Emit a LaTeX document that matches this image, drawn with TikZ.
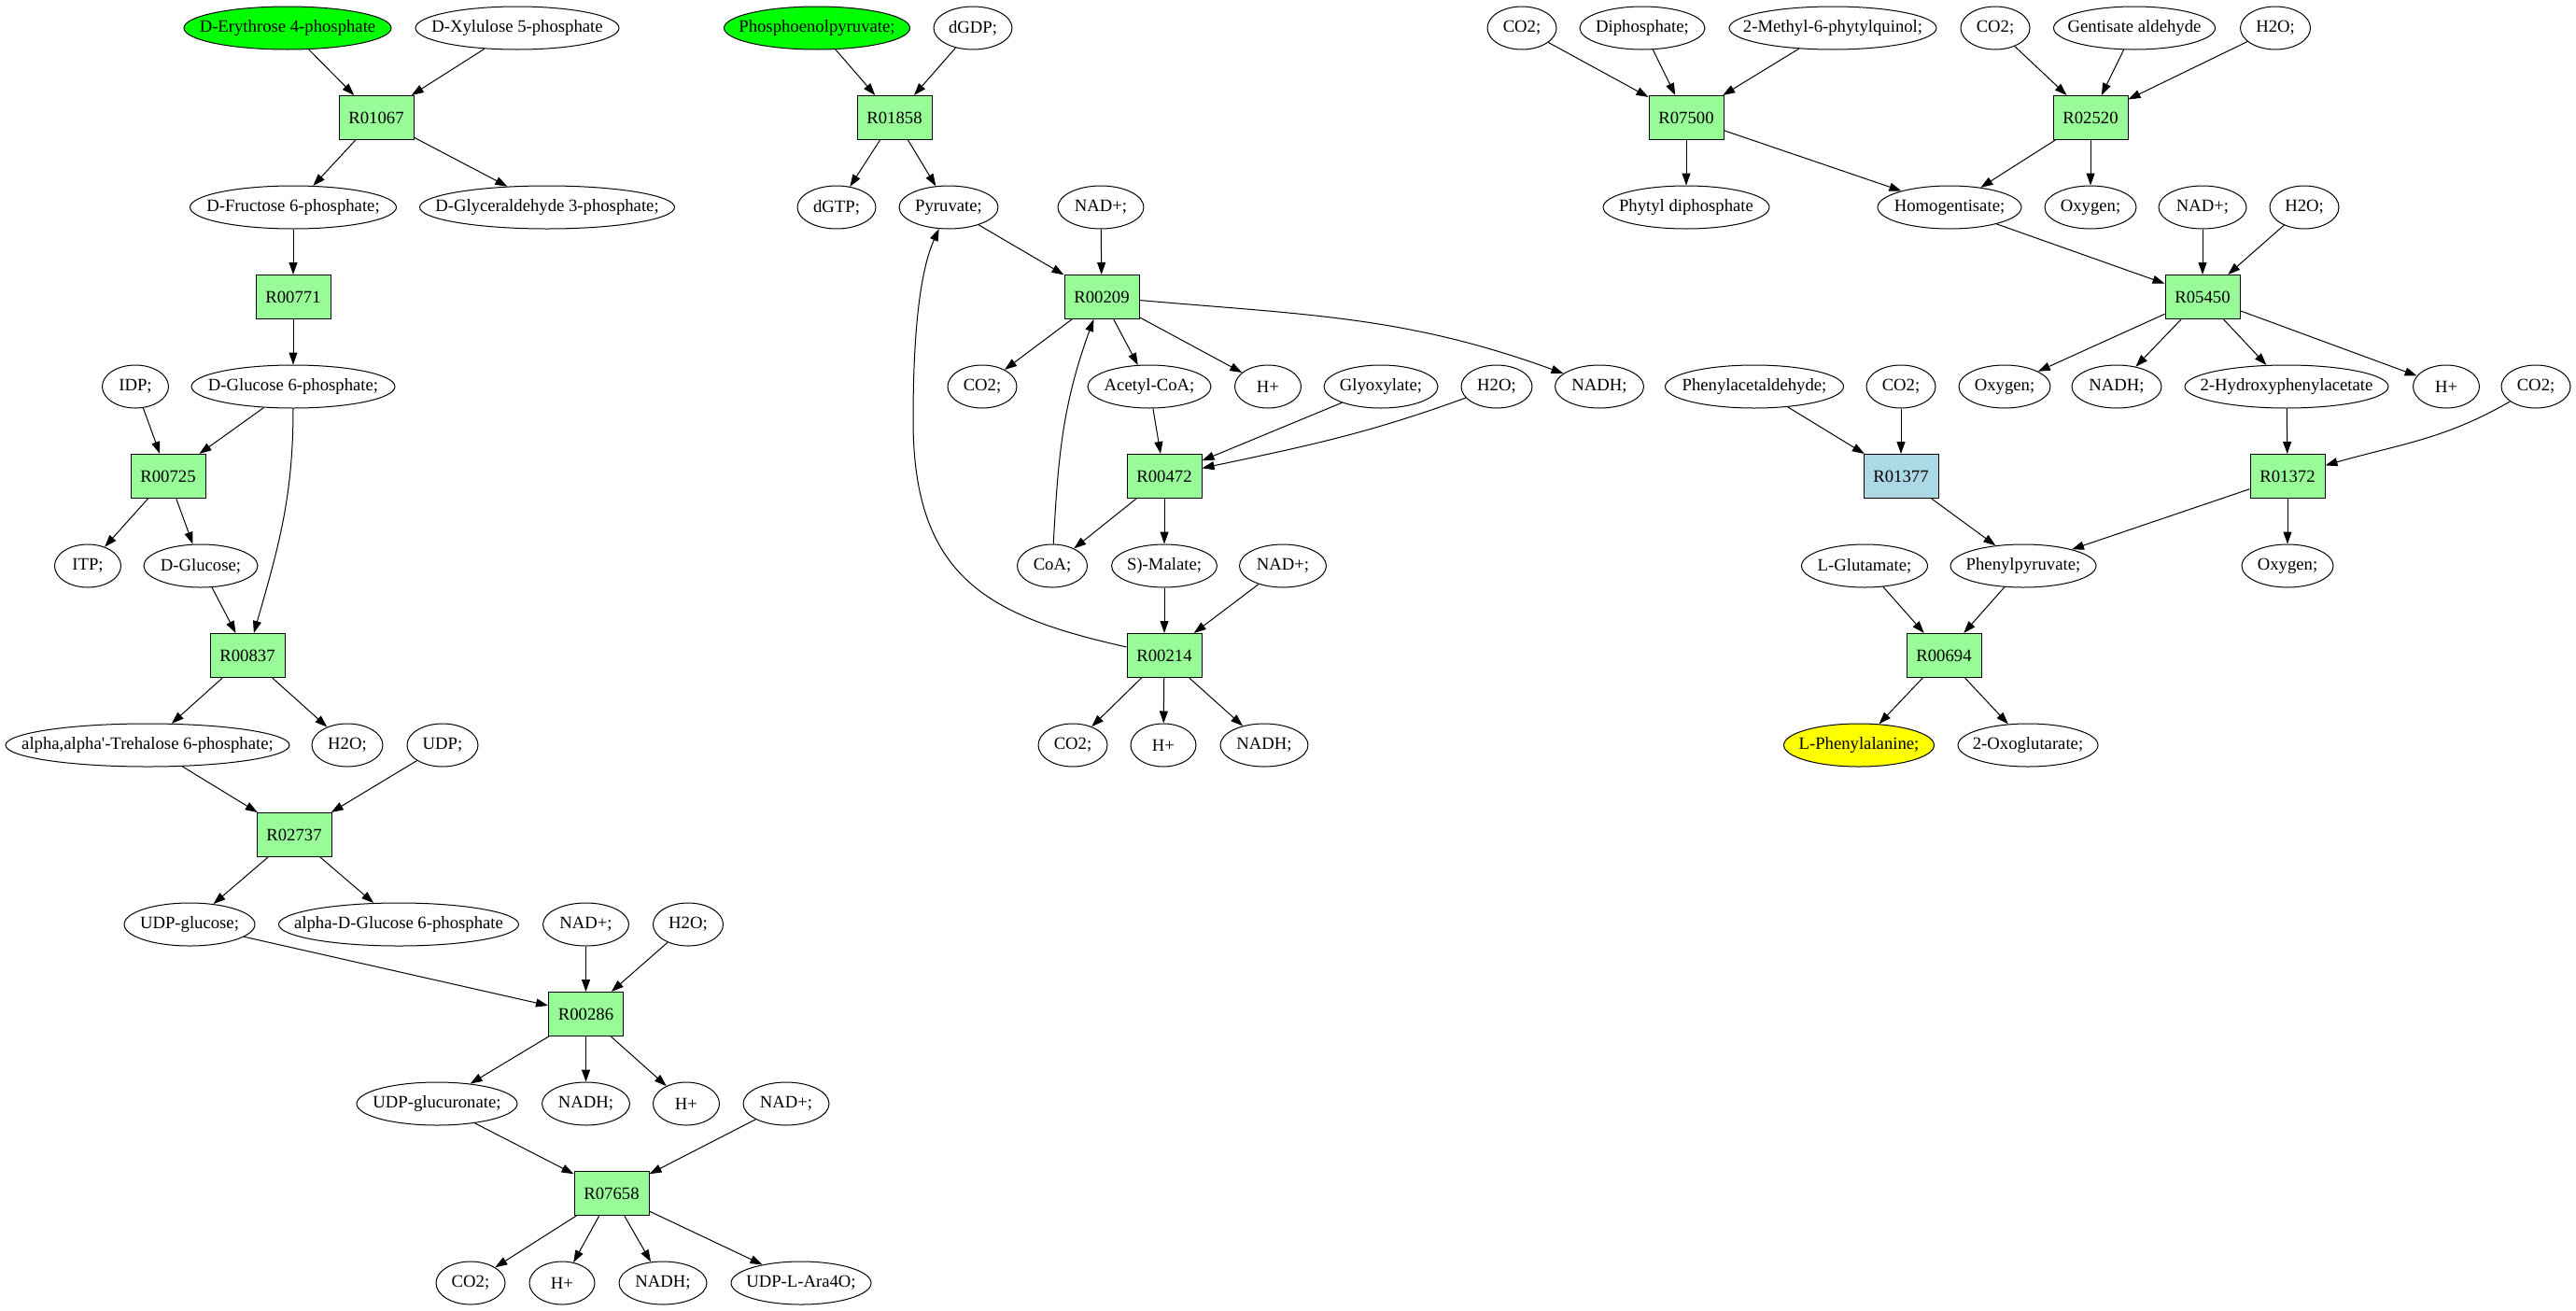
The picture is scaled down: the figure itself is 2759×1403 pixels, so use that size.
\documentclass[tikz,border=0pt]{standalone}
\usepackage{fontspec}
\newfontfamily\gvfont{Liberation Serif}
\usetikzlibrary{shapes.geometric,arrows.meta}
\definecolor{rxgreen}{HTML}{98FB98}
\definecolor{srcgreen}{HTML}{00FF00}
\definecolor{rxblue}{HTML}{ADD8E6}
\definecolor{tgtyellow}{HTML}{FFFF00}
\newcommand{\lbl}[1]{\makebox[0pt]{#1}}
\begin{document}
\begin{tikzpicture}[x=1pt,y=-1pt,
  font=\gvfont\fontsize{18.7pt}{22pt}\selectfont,
  met/.style={ellipse,draw,line width=1pt,inner sep=0pt,minimum height=46pt,minimum width=#1},
  rxn/.style={rectangle,draw,line width=1pt,fill=rxgreen,inner sep=0pt,minimum width=80pt,minimum height=47pt},
  arr/.style={-{Triangle[length=13pt,width=9pt]},line width=1pt}]
\useasboundingbox[fill=white] (0,0) rectangle (2759,1403);

% ---------------- left pathway ----------------
\node[met=222pt,fill=srcgreen] (ery) at (308,30) {\lbl{D-Erythrose 4-phosphate}};
\node[met=218pt] (xyl) at (554,30) {\lbl{D-Xylulose 5-phosphate}};
\node[rxn] (r1067) at (403,126) {\lbl{R01067}};
\node[met=221pt] (fru) at (314,222) {\lbl{D-Fructose 6-phosphate;}};
\node[met=273pt] (gla) at (586,222) {\lbl{D-Glyceraldehyde 3-phosphate;}};
\node[rxn] (r771) at (314,318) {\lbl{R00771}};
\node[met=71pt] (idp) at (145,414) {\lbl{IDP;}};
\node[met=218pt] (g6p) at (314,414) {\lbl{D-Glucose 6-phosphate;}};
\node[rxn] (r725) at (180,510) {\lbl{R00725}};
\node[met=71pt] (itp) at (94,606) {\lbl{ITP;}};
\node[met=122pt] (glc) at (215,606) {\lbl{D-Glucose;}};
\node[rxn] (r837) at (265,702) {\lbl{R00837}};
\node[met=304pt] (tre) at (158,798) {\lbl{alpha,alpha'-Trehalose 6-phosphate;}};
\node[met=76pt] (h2oA) at (372,798) {\lbl{H2O;}};
\node[met=76pt] (udp) at (474,798) {\lbl{UDP;}};
\node[rxn] (r2737) at (315,894) {\lbl{R02737}};
\node[met=140pt] (udpg) at (203,990) {\lbl{UDP-glucose;}};
\node[met=257pt] (ag6p) at (427,990) {\lbl{alpha-D-Glucose 6-phosphate}};
\node[met=92pt] (nadA) at (627.5,990) {\lbl{NAD+;}};
\node[met=75pt] (h2oB) at (737,990) {\lbl{H2O;}};
\node[rxn] (r286) at (627.5,1086) {\lbl{R00286}};
\node[met=172pt] (udpga) at (468,1182) {\lbl{UDP-glucuronate;}};
\node[met=94pt] (nadhA) at (627.5,1182) {\lbl{NADH;}};
\node[met=71pt] (hA) at (735,1182) {\lbl{H+}};
\node[met=92pt] (nadB) at (842,1182) {\lbl{NAD+;}};
\node[rxn] (r7658) at (655,1278) {\lbl{R07658}};
\node[met=74pt] (co2A) at (504,1374) {\lbl{CO2;}};
\node[met=70pt] (hB) at (602,1374) {\lbl{H+}};
\node[met=94pt] (nadhB) at (710,1374) {\lbl{NADH;}};
\node[met=150pt] (ara) at (858,1374) {\lbl{UDP-L-Ara4O;}};

% ---------------- middle pathway ----------------
\node[met=199pt,fill=srcgreen] (pep) at (875,30) {\lbl{Phosphoenolpyruvate;}};
\node[met=84pt] (dgdp) at (1042,30) {\lbl{dGDP;}};
\node[rxn] (r1858) at (958,126) {\lbl{R01858}};
\node[met=84pt] (dgtp) at (896,222) {\lbl{dGTP;}};
\node[met=106pt] (pyr) at (1016,222) {\lbl{Pyruvate;}};
\node[met=92pt] (nadC) at (1179,222) {\lbl{NAD+;}};
\node[rxn] (r209) at (1180,318) {\lbl{R00209}};
\node[met=74pt] (co2B) at (1052,414) {\lbl{CO2;}};
\node[met=132pt] (acoa) at (1231,414) {\lbl{Acetyl-CoA;}};
\node[met=71pt] (hC) at (1358,414) {\lbl{H+}};
\node[met=122pt] (glx) at (1479,414) {\lbl{Glyoxylate;}};
\node[met=76pt] (h2oC) at (1603,414) {\lbl{H2O;}};
\node[met=95pt] (nadhC) at (1713,414) {\lbl{NADH;}};
\node[rxn] (r472) at (1247,510) {\lbl{R00472}};
\node[met=75pt] (coa) at (1127,606) {\lbl{CoA;}};
\node[met=113pt] (mal) at (1247,606) {\lbl{S)-Malate;}};
\node[met=93pt] (nadD) at (1374,606) {\lbl{NAD+;}};
\node[rxn] (r214) at (1247,702) {\lbl{R00214}};
\node[met=74pt] (co2C) at (1149,798) {\lbl{CO2;}};
\node[met=70pt] (hD) at (1246,798) {\lbl{H+}};
\node[met=94pt] (nadhD) at (1354,798) {\lbl{NADH;}};

% ---------------- right pathway ----------------
\node[met=74pt] (co2D) at (1630,30) {\lbl{CO2;}};
\node[met=134pt] (dip) at (1759,30) {\lbl{Diphosphate;}};
\node[met=222pt] (mpq) at (1963,30) {\lbl{2-Methyl-6-phytylquinol;}};
\node[met=74pt] (co2E) at (2137,30) {\lbl{CO2;}};
\node[met=173pt] (gen) at (2286,30) {\lbl{Gentisate aldehyde}};
\node[met=75pt] (h2oD) at (2437,30) {\lbl{H2O;}};
\node[rxn] (r7500) at (1806,126) {\lbl{R07500}};
\node[rxn] (r2520) at (2239,126) {\lbl{R02520}};
\node[met=178pt] (phy) at (1806,222) {\lbl{Phytyl diphosphate}};
\node[met=154pt] (hgt) at (2088,222) {\lbl{Homogentisate;}};
\node[met=98pt] (oxA) at (2239,222) {\lbl{Oxygen;}};
\node[met=94pt] (nadE) at (2359,222) {\lbl{NAD+;}};
\node[met=74pt] (h2oE) at (2468,222) {\lbl{H2O;}};
\node[rxn] (r5450) at (2359,318) {\lbl{R05450}};
\node[met=191pt] (pac) at (1879,414) {\lbl{Phenylacetaldehyde;}};
\node[met=74pt] (co2F) at (2036,414) {\lbl{CO2;}};
\node[met=98pt] (oxB) at (2147,414) {\lbl{Oxygen;}};
\node[met=96pt] (nadhE) at (2267,414) {\lbl{NADH;}};
\node[met=218pt] (hpa) at (2449,414) {\lbl{2-Hydroxyphenylacetate}};
\node[met=71pt] (hE) at (2620,414) {\lbl{H+}};
\node[met=74pt] (co2G) at (2716,414) {\lbl{CO2;}};
\node[rxn,fill=rxblue] (r1377) at (2036,510) {\lbl{R01377}};
\node[rxn] (r1372) at (2450,510) {\lbl{R01372}};
\node[met=135pt] (glu) at (1997,606) {\lbl{L-Glutamate;}};
\node[met=156pt] (ppy) at (2167,606) {\lbl{Phenylpyruvate;}};
\node[met=98pt] (oxC) at (2450,606) {\lbl{Oxygen;}};
\node[rxn] (r694) at (2082,702) {\lbl{R00694}};
\node[met=161pt,fill=tgtyellow] (phe) at (1991,798) {\lbl{L-Phenylalanine;}};
\node[met=150pt] (oxg) at (2172,798) {\lbl{2-Oxoglutarate;}};

% ---------------- edges: left ----------------
\draw[arr] (ery) -- (r1067);
\draw[arr] (xyl) -- (r1067);
\draw[arr] (r1067) -- (fru);
\draw[arr] (r1067) -- (gla);
\draw[arr] (fru) -- (r771);
\draw[arr] (r771) -- (g6p);
\draw[arr] (idp) -- (r725);
\draw[arr] (g6p) -- (r725);
\draw[arr] (g6p) to[out=-90,in=74] (r837);
\draw[arr] (r725) -- (itp);
\draw[arr] (r725) -- (glc);
\draw[arr] (glc) -- (r837);
\draw[arr] (r837) -- (tre);
\draw[arr] (r837) -- (h2oA);
\draw[arr] (tre) -- (r2737);
\draw[arr] (udp) -- (r2737);
\draw[arr] (r2737) -- (udpg);
\draw[arr] (r2737) -- (ag6p);
\draw[arr] (udpg) -- (r286);
\draw[arr] (nadA) -- (r286);
\draw[arr] (h2oB) -- (r286);
\draw[arr] (r286) -- (udpga);
\draw[arr] (r286) -- (nadhA);
\draw[arr] (r286) -- (hA);
\draw[arr] (udpga) -- (r7658);
\draw[arr] (nadB) -- (r7658);
\draw[arr] (r7658) -- (co2A);
\draw[arr] (r7658) -- (hB);
\draw[arr] (r7658) -- (nadhB);
\draw[arr] (r7658) -- (ara);

% ---------------- edges: middle ----------------
\draw[arr] (pep) -- (r1858);
\draw[arr] (dgdp) -- (r1858);
\draw[arr] (r1858) -- (dgtp);
\draw[arr] (r1858) -- (pyr);
\draw[arr] (pyr) -- (r209);
\draw[arr] (nadC) -- (r209);
\draw[arr] (r209) -- (co2B);
\draw[arr] (r209) -- (acoa);
\draw[arr] (r209) -- (hC);
\draw[arr] (r209) to[out=-5,in=160] (nadhC);
\draw[arr] (acoa) -- (r472);
\draw[arr] (glx) -- (r472);
\draw[arr] (h2oC) to[out=200,in=12] (r472);
\draw[arr] (r472) -- (coa);
\draw[arr] (r472) -- (mal);
\draw[arr] (coa) to[out=87,in=-110] (r209);
\draw[arr] (mal) -- (r214);
\draw[arr] (nadD) -- (r214);
\draw[arr] (r214) -- (co2C);
\draw[arr] (r214) -- (hD);
\draw[arr] (r214) -- (nadhD);
\draw[arr] (r214) .. controls (1060,660) and (978,620) .. (978,450)
                  .. controls (978,330) and (990,280) .. (pyr);

% ---------------- edges: right ----------------
\draw[arr] (co2D) -- (r7500);
\draw[arr] (dip) -- (r7500);
\draw[arr] (mpq) -- (r7500);
\draw[arr] (co2E) -- (r2520);
\draw[arr] (gen) -- (r2520);
\draw[arr] (h2oD) -- (r2520);
\draw[arr] (r7500) -- (phy);
\draw[arr] (r7500) -- (hgt);
\draw[arr] (r2520) -- (hgt);
\draw[arr] (r2520) -- (oxA);
\draw[arr] (hgt) -- (r5450);
\draw[arr] (nadE) -- (r5450);
\draw[arr] (h2oE) -- (r5450);
\draw[arr] (r5450) -- (oxB);
\draw[arr] (r5450) -- (nadhE);
\draw[arr] (r5450) -- (hpa);
\draw[arr] (r5450) -- (hE);
\draw[arr] (pac) -- (r1377);
\draw[arr] (co2F) -- (r1377);
\draw[arr] (hpa) -- (r1372);
\draw[arr] (co2G) to[out=210,in=16] (r1372);
\draw[arr] (r1377) -- (ppy);
\draw[arr] (r1372) -- (ppy);
\draw[arr] (r1372) -- (oxC);
\draw[arr] (glu) -- (r694);
\draw[arr] (ppy) -- (r694);
\draw[arr] (r694) -- (phe);
\draw[arr] (r694) -- (oxg);
\end{tikzpicture}
\end{document}
